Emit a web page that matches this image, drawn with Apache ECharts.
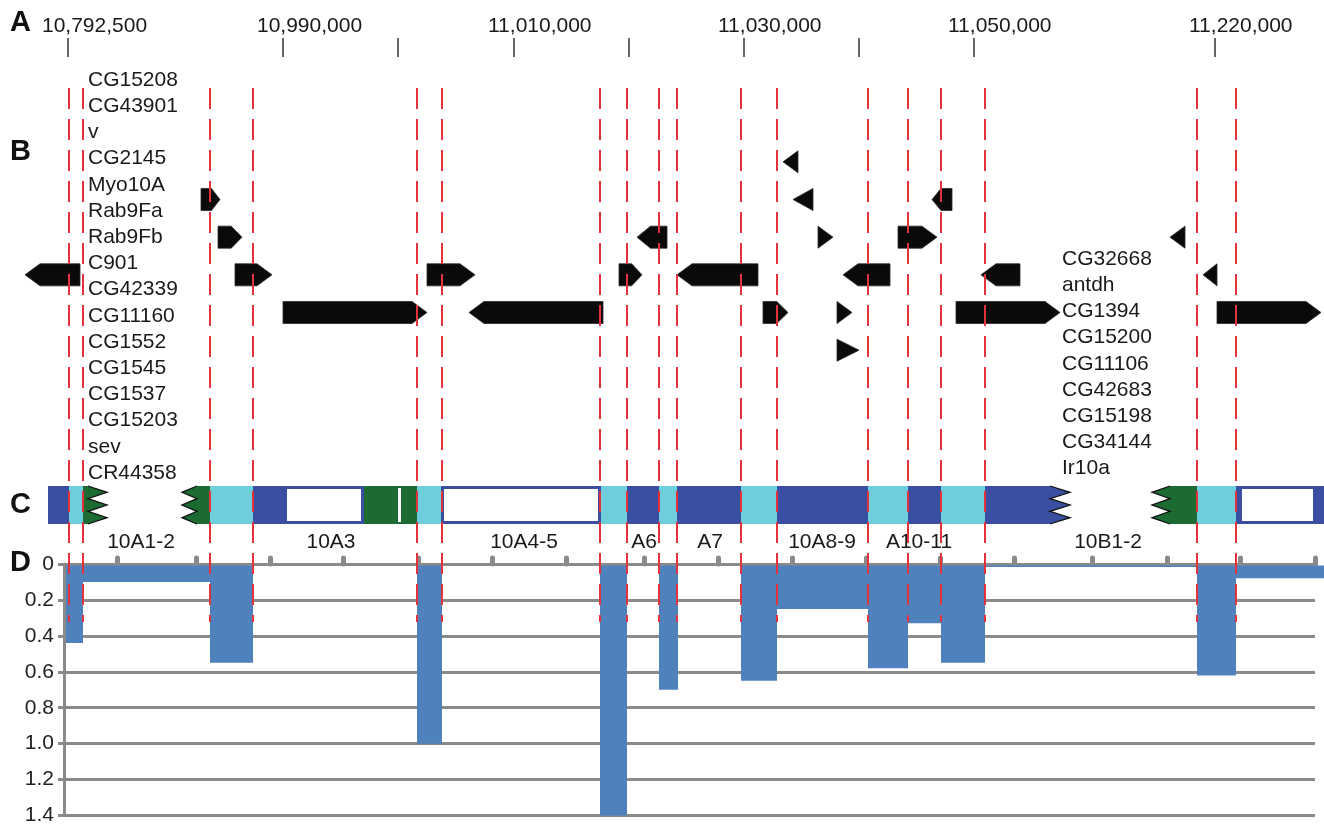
<!DOCTYPE html>
<html>
<head>
<meta charset="utf-8">
<script src="https://cdn.jsdelivr.net/npm/echarts@6/dist/echarts.min.js"></script>
<style>
html, body { margin: 0; padding: 0; background: #fff; }
#fig { width: 1324px; height: 826px; }
</style>
</head>
<body>
<div id="fig"></div>
<script>
var FONT = '"Liberation Sans", Arial, Helvetica, sans-serif';

// A: genome coordinate ticks (map position) and labels
var coordTicks = [68, 283, 398, 514, 629, 744, 859, 974, 1215];
var coordLabels = ['10,792,500', '10,990,000', '', '11,010,000', '', '11,030,000', '', '11,050,000', '11,220,000'];

// breakpoints (red dashed lines), map position
var breakpoints = [69, 83, 210, 253, 417, 442, 600, 627, 659, 677, 741, 777, 868, 908, 941, 985, 1197, 1236];

// B: genes [row, start, end, strand, small]
var genes = [
    [0, 783, 798, -1, 1],
    [1, 201, 220, 1, 0], [1, 793, 813, -1, 1], [1, 932, 952, -1, 0],
    [2, 218, 242, 1, 0], [2, 637, 667, -1, 0], [2, 818, 833, 1, 1], [2, 898, 937, 1, 0], [2, 1170, 1185, -1, 1],
    [3, 25, 80, -1, 0], [3, 235, 272, 1, 0], [3, 427, 475, 1, 0], [3, 619, 642, 1, 0], [3, 677, 758, -1, 0],
    [3, 843, 890, -1, 0], [3, 981, 1020, -1, 0], [3, 1203, 1217, -1, 1],
    [4, 283, 427, 1, 0], [4, 469, 603, -1, 0], [4, 763, 788, 1, 0], [4, 837, 852, 1, 1], [4, 956, 1060, 1, 0], [4, 1217, 1321, 1, 0],
    [5, 837, 859, 1, 1]
];
var genesLeft = ['CG15208', 'CG43901', 'v', 'CG2145', 'Myo10A', 'Rab9Fa', 'Rab9Fb', 'C901', 'CG42339',
    'CG11160', 'CG1552', 'CG1545', 'CG1537', 'CG15203', 'sev', 'CR44358'];
var genesRight = ['CG32668', 'antdh', 'CG1394', 'CG15200', 'CG11106', 'CG42683', 'CG15198', 'CG34144', 'Ir10a'];

// C: cytology band segments [start, end, kind]
var bandSegs = [
    [48, 69, 'dark'], [69, 83, 'cyan'], [83, 88, 'green'],
    [197, 210, 'green'], [210, 253, 'cyan'], [253, 284, 'dark'], [284, 364, 'box'],
    [364, 417, 'green'], [398, 401, 'gap'], [417, 441, 'cyan'], [441, 601, 'box'],
    [601, 627, 'cyan'], [627, 659, 'dark'], [659, 677, 'cyan'], [677, 741, 'dark'],
    [741, 777, 'cyan'], [777, 868, 'dark'], [868, 908, 'cyan'], [908, 941, 'dark'],
    [941, 985, 'cyan'], [985, 1050, 'dark'], [1170, 1197, 'green'], [1197, 1236, 'cyan'],
    [1236, 1239, 'dark'], [1239, 1316, 'box'], [1316, 1324, 'dark']
];
// zigzag ends of the band [base, tip, kind]
var bandBreaks = [[88, 107, 'green'], [197, 182, 'green'], [1050, 1070, 'dark'], [1170, 1152, 'green']];
var bandNames = ['10A1-2', '10A3', '10A4-5', 'A6', 'A7', '10A8-9', 'A10-11', '10B1-2'];
var bandNamePos = [141, 331, 524, 644, 710, 822, 919, 1108];

// D: bars [start, end, value]
var barSpans = [
    [66, 83, 0.44], [83, 210, 0.1], [210, 253, 0.55], [417, 442, 1.0], [600, 627, 1.4],
    [659, 678, 0.7], [741, 777, 0.65], [777, 868, 0.25], [868, 908, 0.58], [908, 941, 0.33],
    [941, 985, 0.55], [985, 1197, 0.01], [1197, 1236, 0.62], [1236, 1324, 0.08]
];
var dTicks = [117, 196, 270, 343, 418, 492, 566, 644, 718, 792, 866, 940, 1014, 1092, 1167, 1240, 1315];

var bandColors = { dark: '#3b4fa2', cyan: '#6fcedc', green: '#1c6b33', gap: '#ffffff' };

function hiddenX(i) {
    return { type: 'value', gridIndex: i, min: 0, max: 1324, show: false };
}
function hiddenY(i, max) {
    return { type: 'value', gridIndex: i, min: 0, max: max, inverse: true, show: false };
}

function genePts(x0, x1, yc, h, dir, tri) {
    var w = x1 - x0;
    var hl = tri ? w : Math.min(15, w * 0.45);
    var t = yc - h / 2, b = yc + h / 2;
    if (dir > 0) return [[x0, t], [x1 - hl, t], [x1, yc], [x1 - hl, b], [x0, b]];
    return [[x1, t], [x0 + hl, t], [x0, yc], [x0 + hl, b], [x1, b]];
}

function zigPts(base, tip, t, b) {
    var pts = [], n = 6, step = (b - t) / n;
    for (var i = 0; i <= n; i++) pts.push([i % 2 ? tip : base, t + i * step]);
    return pts;
}

var option = {
    animation: false,
    backgroundColor: '#ffffff',
    grid: [
        { left: 0, right: 0, top: 38, height: 19 },     // A
        { left: 0, right: 0, top: 143, height: 226 },   // B
        { left: 0, right: 0, top: 486, height: 38 },    // C
        { left: 64, right: 9, top: 564, height: 252 },  // D
        { left: 0, right: 0, top: 88, height: 534 }     // breakpoint overlay
    ],
    xAxis: [
        hiddenX(0), hiddenX(1), hiddenX(2),
        {
            type: 'value', gridIndex: 3, min: 64, max: 1315, position: 'top',
            axisLine: { show: true, lineStyle: { color: '#8a8a8a', width: 3 } },
            axisTick: { show: true, customValues: dTicks, length: 6, lineStyle: { color: '#8a8a8a', width: 5, cap: 'round' } },
            axisLabel: { show: false },
            splitLine: { show: false }
        },
        hiddenX(4)
    ],
    yAxis: [
        hiddenY(0, 1), hiddenY(1, 6), hiddenY(2, 1),
        {
            type: 'value', gridIndex: 3, min: 0, max: 1.4, interval: 0.2, inverse: true,
            axisLine: { show: true, lineStyle: { color: '#8a8a8a', width: 3 } },
            axisTick: { show: true, length: 6, lineStyle: { color: '#8a8a8a', width: 3 } },
            axisLabel: {
                fontSize: 21, color: '#222', fontFamily: FONT, margin: 10,
                formatter: function (v) { return v === 0 ? '0' : v.toFixed(1); }
            },
            splitLine: { show: true, lineStyle: { color: '#8a8a8a', width: 3 } }
        },
        hiddenY(4, 1)
    ],
    graphic: [
        { type: 'text', x: 10, y: 23, style: { text: 'A', font: 'bold 29px ' + FONT, fill: '#111', verticalAlign: 'middle' } },
        { type: 'text', x: 10, y: 152, style: { text: 'B', font: 'bold 29px ' + FONT, fill: '#111', verticalAlign: 'middle' } },
        { type: 'text', x: 10, y: 505, style: { text: 'C', font: 'bold 29px ' + FONT, fill: '#111', verticalAlign: 'middle' } },
        { type: 'text', x: 10, y: 563, style: { text: 'D', font: 'bold 29px ' + FONT, fill: '#111', verticalAlign: 'middle' } },
        { type: 'text', x: 88, y: 67, style: { text: genesLeft.join('\n'), font: '21px ' + FONT, fill: '#1a1a1a', lineHeight: 26.2, verticalAlign: 'top' } },
        { type: 'text', x: 1062, y: 246, style: { text: genesRight.join('\n'), font: '21px ' + FONT, fill: '#1a1a1a', lineHeight: 26.2, verticalAlign: 'top' } }
    ],
    series: [
        {   // A: coordinate ticks
            type: 'custom', xAxisIndex: 0, yAxisIndex: 0,
            data: coordTicks.map(function (x, i) { return [x, i]; }),
            renderItem: function (params, api) {
                var x = api.value(0), lab = coordLabels[api.value(1)];
                var p0 = api.coord([x, 0]), p1 = api.coord([x, 1]);
                return {
                    type: 'group', children: [
                        { type: 'line', shape: { x1: p0[0], y1: p0[1], x2: p1[0], y2: p1[1] }, style: { stroke: '#333', lineWidth: 1.5 } },
                        { type: 'text', x: p0[0] - 26, y: p0[1] - 12, style: { text: lab, fill: '#1a1a1a', font: '21px ' + FONT, align: 'left', verticalAlign: 'middle' } }
                    ]
                };
            }
        },
        {   // B: gene models
            type: 'custom', xAxisIndex: 1, yAxisIndex: 1,
            data: genes,
            renderItem: function (params, api) {
                var r = api.value(0), x0 = api.value(1), x1 = api.value(2);
                var a = api.coord([x0, r + 0.5]), b = api.coord([x1, r + 0.5]);
                var h = api.size([0, 0.585])[1];
                return {
                    type: 'polygon',
                    shape: { points: genePts(a[0], b[0], a[1], h, api.value(3), api.value(4)) },
                    style: { fill: '#0a0a0a', stroke: '#2a2a2a', lineWidth: 0.8 }
                };
            }
        },
        {   // C: band segments
            type: 'custom', xAxisIndex: 2, yAxisIndex: 2,
            data: bandSegs,
            renderItem: function (params, api) {
                var s = bandSegs[params.dataIndex];
                var a = api.coord([s[0], 0]), b = api.coord([s[1], 1]);
                if (s[2] === 'box') {
                    return {
                        type: 'rect',
                        shape: { x: a[0] + 1.5, y: a[1] + 1.5, width: b[0] - a[0] - 3, height: b[1] - a[1] - 3 },
                        style: { fill: '#fff', stroke: bandColors.dark, lineWidth: 3 }
                    };
                }
                var inset = s[2] === 'gap' ? 2 : 0;
                return {
                    type: 'rect',
                    shape: { x: a[0], y: a[1] + inset, width: b[0] - a[0], height: b[1] - a[1] - 2 * inset },
                    style: { fill: bandColors[s[2]] }
                };
            }
        },
        {   // C: zigzag ends
            type: 'custom', xAxisIndex: 2, yAxisIndex: 2,
            data: bandBreaks,
            renderItem: function (params, api) {
                var s = bandBreaks[params.dataIndex];
                var a = api.coord([s[0], 0]), b = api.coord([s[1], 1]);
                var pts = zigPts(a[0], b[0], a[1], b[1]);
                return {
                    type: 'group', children: [
                        { type: 'polygon', shape: { points: pts }, style: { fill: bandColors[s[2]] } },
                        { type: 'polyline', shape: { points: pts }, style: { stroke: '#111', lineWidth: 1.3, fill: null } }
                    ]
                };
            }
        },
        {   // C: band names
            type: 'custom', xAxisIndex: 2, yAxisIndex: 2,
            data: bandNamePos.map(function (x, i) { return [x, i]; }),
            renderItem: function (params, api) {
                var p = api.coord([api.value(0), 1]);
                return {
                    type: 'text', x: p[0], y: p[1] + 18,
                    style: { text: bandNames[api.value(1)], fill: '#1a1a1a', font: '21px ' + FONT, align: 'center', verticalAlign: 'middle' }
                };
            }
        },
        {   // D: bars hanging from 0
            type: 'custom', xAxisIndex: 3, yAxisIndex: 3,
            data: barSpans,
            renderItem: function (params, api) {
                var a = api.coord([api.value(0), 0]), b = api.coord([api.value(1), api.value(2)]);
                return {
                    type: 'rect',
                    shape: { x: a[0], y: a[1] + 1.5, width: b[0] - a[0], height: Math.max(1.5, b[1] - a[1] - 1.5) },
                    style: { fill: '#4f81bd' }
                };
            }
        },
        {   // breakpoints
            type: 'custom', xAxisIndex: 4, yAxisIndex: 4, z: 10,
            data: breakpoints.map(function (x) { return [x]; }),
            renderItem: function (params, api) {
                var a = api.coord([api.value(0), 0]), b = api.coord([api.value(0), 1]);
                return {
                    type: 'line',
                    shape: { x1: a[0], y1: a[1], x2: b[0], y2: b[1] },
                    style: { stroke: '#e2323b', lineWidth: 2, lineDash: [21, 10] }
                };
            }
        }
    ]
};

var chart = echarts.init(document.getElementById('fig'));
chart.setOption(option);
</script>
</body>
</html>
